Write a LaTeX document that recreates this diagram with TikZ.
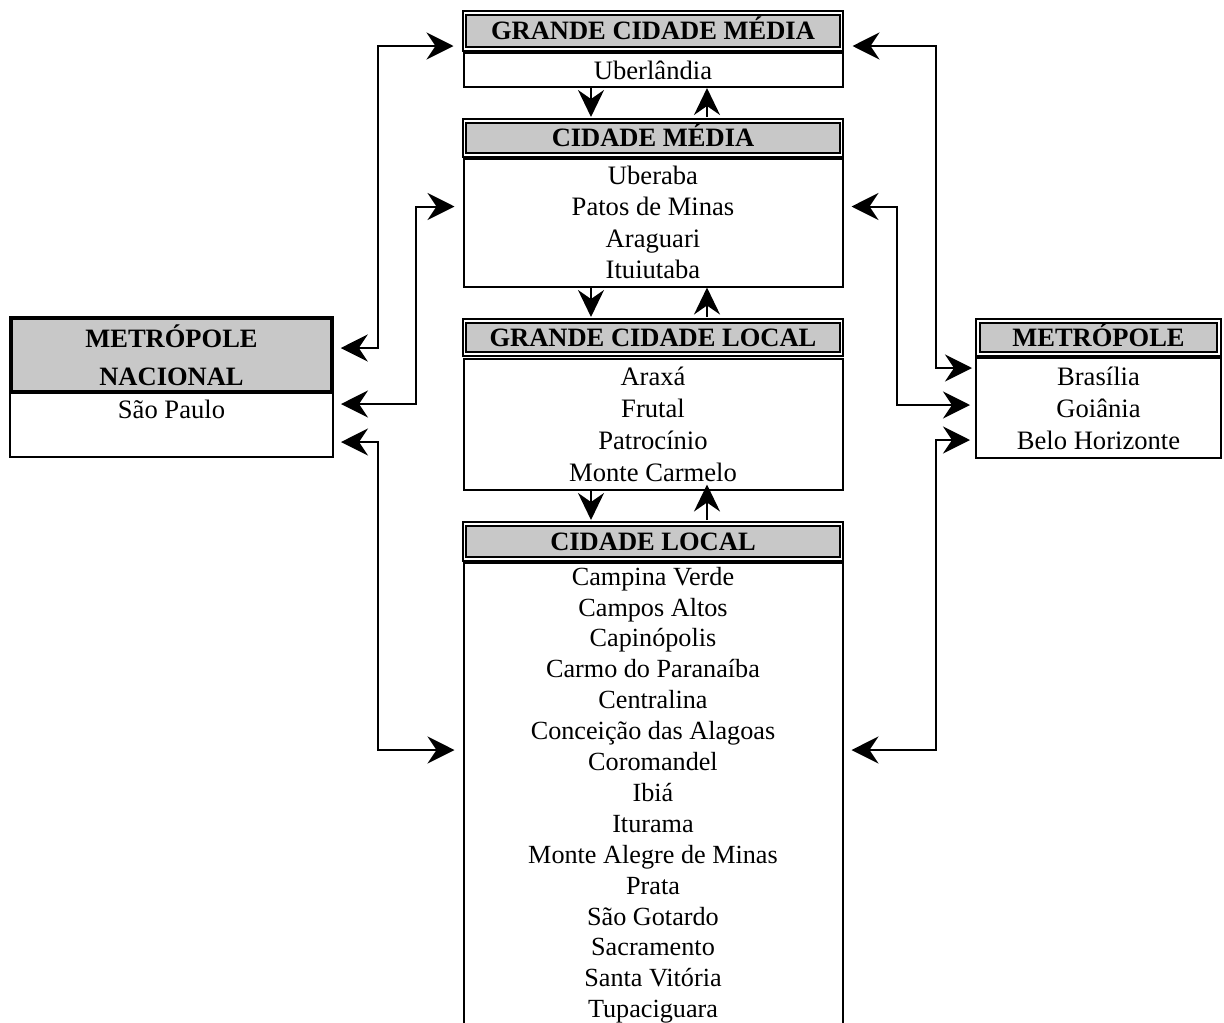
\documentclass[tikz,border=0pt]{standalone}
\usepackage{fontspec}
\setmainfont{Liberation Serif}
\usetikzlibrary{arrows.meta,calc}
\definecolor{headgray}{RGB}{200,200,200}
\begin{document}
\begin{tikzpicture}[x=1pt,y=-1pt,
    head/.style={draw, double, line width=2pt, double distance=1.6pt, fill=headgray,
      minimum width=377pt, inner sep=0pt, text height=17.5pt, text depth=0pt,
      font=\bfseries\fontsize{26.5}{38}\selectfont},
    body/.style={draw, line width=2pt, fill=white, minimum width=379pt, inner sep=0pt,
      align=center, font=\fontsize{26.6}{31.5}\selectfont},
    flow/.style={line width=2pt, -{Stealth[length=27pt,width=26pt,inset=9pt]}},
    link/.style={line width=2pt, {Stealth[length=27pt,width=27pt,inset=9pt]}-{Stealth[length=27pt,width=27pt,inset=9pt]}}]
  \useasboundingbox (0,0) rectangle (1224,1023);
  \clip (0,0) rectangle (1224,1023);

  % Trunks of the side connectors and columns of the middle arrows
  \coordinate (dn) at (591,0);
  \coordinate (up) at (707,0);
  \coordinate (lo) at (378,0);
  \coordinate (li) at (416,0);
  \coordinate (ro) at (936,0);
  \coordinate (ri) at (897,0);

  % Box GRANDE CIDADE MEDIA
  \node[body, minimum height=34pt] (gcmb) at (653,70) {Uberlândia};
  \node[head, minimum height=36pt] (gcmh) at (653,31) {GRANDE CIDADE MÉDIA};

  % Box CIDADE MEDIA
  \node[body, minimum height=128pt] (cmb) at (653,222.5)
    {Uberaba\\Patos de Minas\\Araguari\\Ituiutaba};
  \node[head, minimum height=34pt] (cmh) at (653,138) {CIDADE MÉDIA};

  % Box GRANDE CIDADE LOCAL
  \node[body, minimum height=131pt, font=\fontsize{26.6}{32}\selectfont] (gclb) at (653,424)
    {Araxá\\Frutal\\Patrocínio\\Monte Carmelo};
  \node[head, minimum height=33pt] (gclh) at (653,337.5) {GRANDE CIDADE LOCAL};

  % Box CIDADE LOCAL
  \node[body, anchor=north, inner ysep=4pt, font=\fontsize{26.2}{30.9}\selectfont] (clb) at (653,562)
    {Campina Verde\\Campos Altos\\Capinópolis\\Carmo do Paranaíba\\Centralina\\
     Conceição das Alagoas\\Coromandel\\Ibiá\\Iturama\\Monte Alegre de Minas\\
     Prata\\São Gotardo\\Sacramento\\Santa Vitória\\Tupaciguara\\~};
  \node[head, minimum height=35pt] (clh) at (653,541.5) {CIDADE LOCAL};

  % Box METROPOLE NACIONAL
  \node[body, minimum width=323pt, minimum height=64pt] (mnb) at (171.5,425) {São Paulo\\~};
  \node[draw, line width=3.5pt, fill=headgray, minimum width=321pt, minimum height=74pt,
    inner sep=0pt, align=center, font=\bfseries\fontsize{26.5}{38}\selectfont] (mnh) at (171.5,355)
    {METRÓPOLE\\NACIONAL};

  % Box METROPOLE
  \node[body, minimum width=245pt, minimum height=100pt, font=\fontsize{26.6}{32}\selectfont] (mb) at (1098.5,408)
    {Brasília\\Goiânia\\Belo Horizonte};
  \node[head, minimum width=241pt, minimum height=33pt] (mh) at (1098.5,337.5) {METRÓPOLE};

  % Drawing the arrows between the middle boxes
  \draw[flow] (gcmb.south -| dn) -- ($(cmh.north -| dn)+(0,-3)$);
  \draw[flow] ($(cmh.north -| up)+(0,-3)$) -- (gcmb.south -| up);
  \draw[flow] (cmb.south -| dn) -- ($(gclh.north -| dn)+(0,-3)$);
  \draw[flow] ($(gclh.north -| up)+(0,-3)$) -- (cmb.south -| up);
  \draw[flow] (gclb.south -| dn) -- ($(clh.north -| dn)+(0,-3)$);
  \draw[flow] ($(clh.north -| up)+(0,-3)$) -- ($(gclb.south -| up)+(0,-6)$);

  % Drawing the connectors on the left
  \draw[link] ($(gcmh.south west)+(-10,-4)$) -| ($(lo |- mnh.east)+(0,-7)$) -- ($(mnh.east)+(7,-7)$);
  \draw[link] ($(cmb.west)+(-8,-16)$) -| ($(li |- mnb.north)+(0,12)$) -- ($(mnb.north east)+(7,12)$);
  \draw[link] ($(mnb.south east)+(7,-16)$) -| ($(lo |- clb.north)+(0,188)$) -- ($(clb.north west)+(-8,188)$);

  % Drawing the connectors on the right
  \draw[link] ($(gcmh.south east)+(10,-4)$) -| ($(ro |- mh.south)+(0,13)$) -- ($(mh.south west)+(-5,13)$);
  \draw[link] ($(cmb.east)+(8,-16)$) -| ($(ri |- mb.north)+(0,48)$) -- ($(mb.north west)+(-5,48)$);
  \draw[link] ($(mb.north west)+(-5,83)$) -| ($(ro |- clb.north)+(0,188)$) -- ($(clb.north east)+(8,188)$);
\end{tikzpicture}
\end{document}
